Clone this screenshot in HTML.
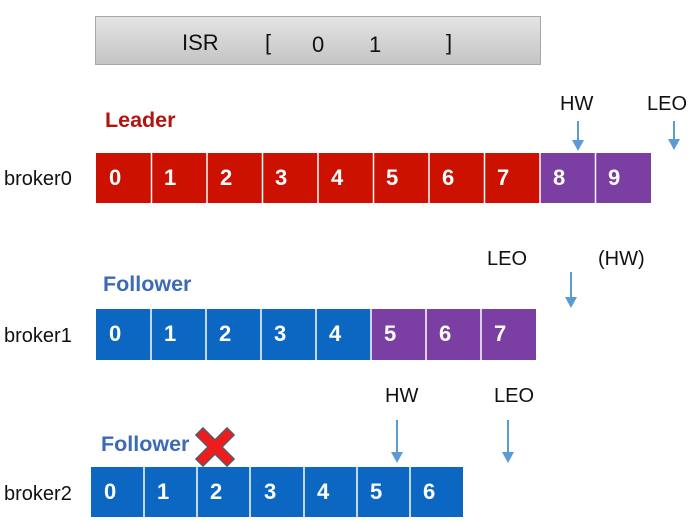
<!DOCTYPE html>
<html><head><meta charset="utf-8"><style>
html,body{margin:0;padding:0;background:#fff;width:698px;height:521px;overflow:hidden}
svg text{font-family:"Liberation Sans",Arial,sans-serif}
</style></head><body>
<svg width="698" height="521" viewBox="0 0 698 521" xmlns="http://www.w3.org/2000/svg">
<defs>
<linearGradient id="g" x1="0" y1="0" x2="0" y2="1"><stop offset="0" stop-color="#e4e4e4"/><stop offset="1" stop-color="#c4c4c4"/></linearGradient>
</defs>
<rect x="95.5" y="16.5" width="445" height="48" fill="url(#g)" stroke="#a8a8a8"/>
<g font-size="22" fill="#111">
<text x="182" y="50">ISR</text><text x="265" y="50">[</text><text x="312" y="52">0</text><text x="369" y="52">1</text><text x="446" y="50">]</text>
</g>
<text x="105" y="127" font-size="21.5" font-weight="bold" fill="#b3140f">Leader</text>
<text x="103" y="291" font-size="21.5" font-weight="bold" fill="#3c6bb4">Follower</text>
<text x="101" y="451" font-size="21.5" font-weight="bold" fill="#3c6bb4">Follower</text>
<g font-size="20" fill="#111">
<text x="4" y="185">broker0</text><text x="4" y="342">broker1</text><text x="4" y="500">broker2</text>
<text x="560" y="110">HW</text><text x="647" y="110">LEO</text>
<text x="487" y="265">LEO</text><text x="598" y="265">(HW)</text>
<text x="385" y="402">HW</text><text x="494" y="402">LEO</text>
</g>
<g stroke="#5b9bd5" stroke-width="2">
<line x1="578" y1="121" x2="578" y2="142"/><line x1="674" y1="121" x2="674" y2="141"/>
<line x1="571" y1="272" x2="571" y2="299"/>
<line x1="397" y1="420" x2="397" y2="454"/><line x1="508" y1="420" x2="508" y2="454"/>
</g>
<g fill="#5b9bd5">
<polygon points="572,140 584,140 578,151"/><polygon points="668,139 680,139 674,150"/>
<polygon points="565,297 577,297 571,308"/>
<polygon points="391,452 403,452 397,463"/><polygon points="502,452 514,452 508,463"/>
</g>
<g font-size="22" font-weight="bold" fill="#fff">
<rect x="96" y="153" width="555" height="50" fill="#cc1100"/>
<rect x="540" y="153" width="111" height="50" fill="#7b3fa3"/>
<rect x="96" y="309" width="440" height="51" fill="#0b67c2"/>
<rect x="371" y="309" width="165" height="51" fill="#7b3fa3"/>
<rect x="91" y="467" width="372" height="50" fill="#0b67c2"/>
<g stroke="#fff" stroke-width="1.5">
<line x1="151.5" y1="153" x2="151.5" y2="203"/><line x1="207" y1="153" x2="207" y2="203"/><line x1="262.5" y1="153" x2="262.5" y2="203"/><line x1="318" y1="153" x2="318" y2="203"/><line x1="373.5" y1="153" x2="373.5" y2="203"/><line x1="429" y1="153" x2="429" y2="203"/><line x1="484.5" y1="153" x2="484.5" y2="203"/><line x1="540" y1="153" x2="540" y2="203"/><line x1="595.5" y1="153" x2="595.5" y2="203"/>
<line x1="151" y1="309" x2="151" y2="360"/><line x1="206" y1="309" x2="206" y2="360"/><line x1="261" y1="309" x2="261" y2="360"/><line x1="316" y1="309" x2="316" y2="360"/><line x1="371" y1="309" x2="371" y2="360"/><line x1="426" y1="309" x2="426" y2="360"/><line x1="481" y1="309" x2="481" y2="360"/>
<line x1="144" y1="467" x2="144" y2="517"/><line x1="197" y1="467" x2="197" y2="517"/><line x1="250" y1="467" x2="250" y2="517"/><line x1="304" y1="467" x2="304" y2="517"/><line x1="357" y1="467" x2="357" y2="517"/><line x1="410" y1="467" x2="410" y2="517"/>
</g>
<text x="109" y="185">0</text><text x="164" y="185">1</text><text x="220" y="185">2</text><text x="275" y="185">3</text><text x="331" y="185">4</text><text x="386" y="185">5</text><text x="442" y="185">6</text><text x="497" y="185">7</text><text x="553" y="185">8</text><text x="608" y="185">9</text>
<text x="109" y="341">0</text><text x="164" y="341">1</text><text x="219" y="341">2</text><text x="274" y="341">3</text><text x="329" y="341">4</text><text x="384" y="341">5</text><text x="439" y="341">6</text><text x="494" y="341">7</text>
<text x="104" y="499">0</text><text x="157" y="499">1</text><text x="210" y="499">2</text><text x="264" y="499">3</text><text x="317" y="499">4</text><text x="370" y="499">5</text><text x="423" y="499">6</text>
</g>
<g transform="translate(215,447) rotate(45)">
<path d="M-5,-22 H5 V-5 H22 V5 H5 V22 H-5 V5 H-22 V-5 H-5 Z" fill="#f01c1c" stroke="#5a5a6a" stroke-width="1.5"/>
</g>
</svg>
</body></html>
